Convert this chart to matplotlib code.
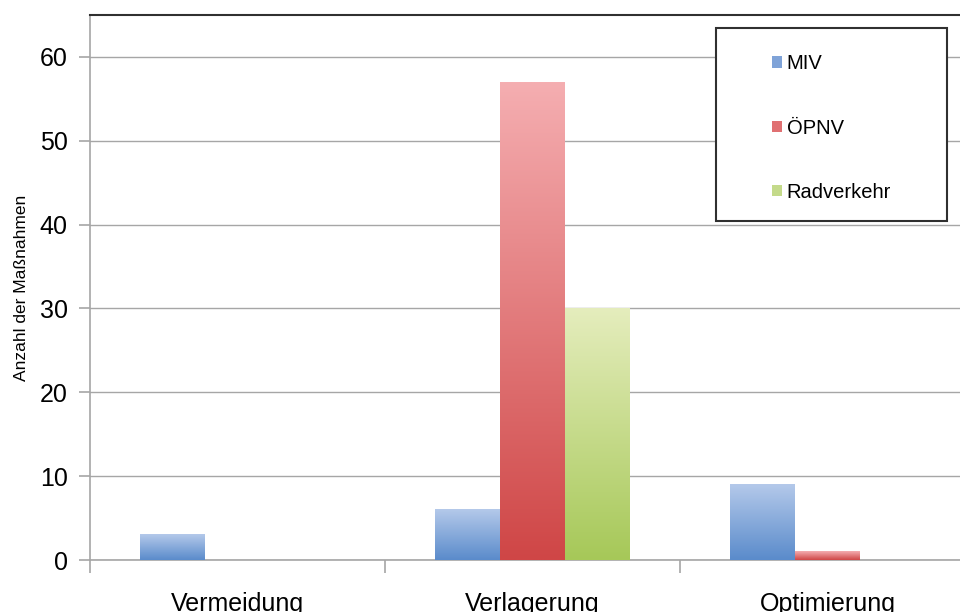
import matplotlib
matplotlib.use("Agg")
import matplotlib.pyplot as plt
import numpy as np
from matplotlib.colors import LinearSegmentedColormap
from matplotlib.patches import Rectangle, Patch

plt.rcParams['font.family'] = ['Liberation Sans', 'DejaVu Sans']

categories = ["Vermeidung", "Verlagerung", "Optimierung"]
series_names = ["MIV", "ÖPNV", "Radverkehr"]
miv = [3, 6, 9]
oepnv = [0, 57, 1]
radverkehr = [0, 30, 0]
y_ticks = [0, 10, 20, 30, 40, 50, 60]

values = [miv, oepnv, radverkehr]
grad_colors = [("#b4c9ea", "#5a8bcb"), ("#f5aeb1", "#cf4646"), ("#e5edbd", "#a6c858")]
legend_colors = ["#7fa3d8", "#e07072", "#c4da8a"]

fig = plt.figure(figsize=(9.6, 6.12), dpi=100)
W, H = 960, 612
ax = fig.add_axes([90 / W, (H - 560) / H, 885 / W, 545 / H])

n = len(categories)
x = np.arange(n)
bw = 0.22
offsets = [-bw, 0, bw]

for s, (vals, (ctop, cbot)) in enumerate(zip(values, grad_colors)):
    cmap = LinearSegmentedColormap.from_list(series_names[s], [cbot, ctop])
    bars = ax.bar(x + offsets[s], vals, width=bw, color="none", edgecolor="none", zorder=3)
    grad = np.linspace(0, 1, 256).reshape(-1, 1)
    for b in bars:
        bx, by, bwid, bh = b.get_x(), b.get_y(), b.get_width(), b.get_height()
        if bh <= 0:
            continue
        ax.imshow(grad, cmap=cmap, origin="lower", aspect="auto",
                  extent=[bx, bx + bwid, by, by + bh], zorder=3, interpolation="bilinear")

ax.set_xlim(-0.5, n - 0.5)
ax.set_ylim(0, 65)

ax.set_yticks(y_ticks)
ax.set_yticklabels([str(t) for t in y_ticks], fontsize=18)
ax.yaxis.grid(True, color="#a6a6a6", linewidth=1.0, zorder=0)
ax.set_axisbelow(True)

ax.set_xticks(x)
ax.set_xticklabels(categories, fontsize=18)
ax.tick_params(axis="x", which="major", length=0, pad=23)
ax.set_xticks(np.arange(-0.5, n, 1.0), minor=True)
ax.tick_params(axis="x", which="minor", length=9, color="#a6a6a6", width=1.2)
ax.tick_params(axis="y", length=8, color="#a6a6a6", width=1.2, pad=8)

for side in ["left", "bottom"]:
    ax.spines[side].set_color("#a6a6a6")
    ax.spines[side].set_linewidth(1.2)
ax.spines["right"].set_visible(False)
ax.spines["top"].set_color("#303030")
ax.spines["top"].set_linewidth(1.5)

ax.set_ylabel("Anzahl der Maßnahmen", fontsize=12.5)
ax.yaxis.set_label_coords((29 - 90) / 885, 0.5)

# legend frame
x0 = (716 - 90) / 885
y0 = (560 - 221) / 545
ax.add_patch(Rectangle((x0, y0), (947 - 716) / 885, (221 - 28) / 545, transform=ax.transAxes,
                       facecolor="white", edgecolor="#303030", linewidth=1.5, zorder=5, clip_on=False))
handles = [Patch(facecolor=c, edgecolor="none") for c in legend_colors]
leg = ax.legend(handles, series_names, loc="center",
                bbox_to_anchor=(x0 + (947 - 716) / 885 / 2, (560 - 128) / 545),
                frameon=False, fontsize=14.5, handlelength=0.5, handleheight=0.5,
                handletextpad=0.25, labelspacing=2.25)
leg.set_zorder(6)

fig.savefig("out.png", dpi=100)
